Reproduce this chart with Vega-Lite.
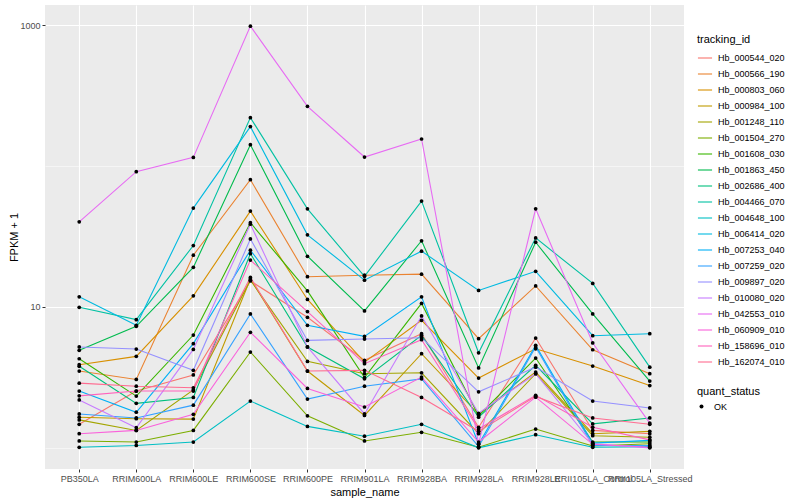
{
"$schema": "https://vega.github.io/schema/vega-lite/v6.json",
"width": 639, "height": 464,
"autosize": {"type": "none"},
"padding": {"left": 45, "top": 5, "right": 116, "bottom": 31},
"background": "white",
"config": {
  "font": "Liberation Sans",
  "view": {"fill": "#EBEBEB", "stroke": null},
  "axis": {"domain": false, "gridColor": "white", "tickColor": "#333333", "tickSize": 3, "labelColor": "#4D4D4D", "labelFontSize": 9, "titleFontSize": 11, "titleFontWeight": "normal", "titleColor": "black", "labelPadding": 2},
  "legend": {"titleFontSize": 11, "titleFontWeight": "normal", "titleColor": "black", "labelFontSize": 9, "labelColor": "black"}
},
"data": {"values": [
{"tracking_id":"Hb_000544_020","sample_name":"PB350LA","FPKM":1.47,"quant_status":"OK"},
{"tracking_id":"Hb_000544_020","sample_name":"RRIM600LA","FPKM":2.53,"quant_status":"OK"},
{"tracking_id":"Hb_000544_020","sample_name":"RRIM600LE","FPKM":3.29,"quant_status":"OK"},
{"tracking_id":"Hb_000544_020","sample_name":"RRIM600SE","FPKM":15.3,"quant_status":"OK"},
{"tracking_id":"Hb_000544_020","sample_name":"RRIM600PE","FPKM":8.45,"quant_status":"OK"},
{"tracking_id":"Hb_000544_020","sample_name":"RRIM901LA","FPKM":4.18,"quant_status":"OK"},
{"tracking_id":"Hb_000544_020","sample_name":"RRIM928BA","FPKM":6.46,"quant_status":"OK"},
{"tracking_id":"Hb_000544_020","sample_name":"RRIM928LA","FPKM":1.40,"quant_status":"OK"},
{"tracking_id":"Hb_000544_020","sample_name":"RRIM928LE","FPKM":6.02,"quant_status":"OK"},
{"tracking_id":"Hb_000544_020","sample_name":"RRII105LA_Control","FPKM":1.33,"quant_status":"OK"},
{"tracking_id":"Hb_000544_020","sample_name":"RRII105LA_Stressed","FPKM":1.26,"quant_status":"OK"},
{"tracking_id":"Hb_000566_190","sample_name":"PB350LA","FPKM":3.51,"quant_status":"OK"},
{"tracking_id":"Hb_000566_190","sample_name":"RRIM600LA","FPKM":3.06,"quant_status":"OK"},
{"tracking_id":"Hb_000566_190","sample_name":"RRIM600LE","FPKM":23.3,"quant_status":"OK"},
{"tracking_id":"Hb_000566_190","sample_name":"RRIM600SE","FPKM":80.0,"quant_status":"OK"},
{"tracking_id":"Hb_000566_190","sample_name":"RRIM600PE","FPKM":16.4,"quant_status":"OK"},
{"tracking_id":"Hb_000566_190","sample_name":"RRIM901LA","FPKM":16.8,"quant_status":"OK"},
{"tracking_id":"Hb_000566_190","sample_name":"RRIM928BA","FPKM":17.1,"quant_status":"OK"},
{"tracking_id":"Hb_000566_190","sample_name":"RRIM928LA","FPKM":5.95,"quant_status":"OK"},
{"tracking_id":"Hb_000566_190","sample_name":"RRIM928LE","FPKM":14.1,"quant_status":"OK"},
{"tracking_id":"Hb_000566_190","sample_name":"RRII105LA_Control","FPKM":4.97,"quant_status":"OK"},
{"tracking_id":"Hb_000566_190","sample_name":"RRII105LA_Stressed","FPKM":3.36,"quant_status":"OK"},
{"tracking_id":"Hb_000803_060","sample_name":"PB350LA","FPKM":3.89,"quant_status":"OK"},
{"tracking_id":"Hb_000803_060","sample_name":"RRIM600LA","FPKM":4.46,"quant_status":"OK"},
{"tracking_id":"Hb_000803_060","sample_name":"RRIM600LE","FPKM":12.0,"quant_status":"OK"},
{"tracking_id":"Hb_000803_060","sample_name":"RRIM600SE","FPKM":47.9,"quant_status":"OK"},
{"tracking_id":"Hb_000803_060","sample_name":"RRIM600PE","FPKM":11.3,"quant_status":"OK"},
{"tracking_id":"Hb_000803_060","sample_name":"RRIM901LA","FPKM":4.06,"quant_status":"OK"},
{"tracking_id":"Hb_000803_060","sample_name":"RRIM928BA","FPKM":8.04,"quant_status":"OK"},
{"tracking_id":"Hb_000803_060","sample_name":"RRIM928LA","FPKM":3.13,"quant_status":"OK"},
{"tracking_id":"Hb_000803_060","sample_name":"RRIM928LE","FPKM":5.05,"quant_status":"OK"},
{"tracking_id":"Hb_000803_060","sample_name":"RRII105LA_Control","FPKM":3.81,"quant_status":"OK"},
{"tracking_id":"Hb_000803_060","sample_name":"RRII105LA_Stressed","FPKM":2.77,"quant_status":"OK"},
{"tracking_id":"Hb_000984_100","sample_name":"PB350LA","FPKM":1.65,"quant_status":"OK"},
{"tracking_id":"Hb_000984_100","sample_name":"RRIM600LA","FPKM":1.61,"quant_status":"OK"},
{"tracking_id":"Hb_000984_100","sample_name":"RRIM600LE","FPKM":1.60,"quant_status":"OK"},
{"tracking_id":"Hb_000984_100","sample_name":"RRIM600SE","FPKM":15.8,"quant_status":"OK"},
{"tracking_id":"Hb_000984_100","sample_name":"RRIM600PE","FPKM":3.51,"quant_status":"OK"},
{"tracking_id":"Hb_000984_100","sample_name":"RRIM901LA","FPKM":1.70,"quant_status":"OK"},
{"tracking_id":"Hb_000984_100","sample_name":"RRIM928BA","FPKM":4.66,"quant_status":"OK"},
{"tracking_id":"Hb_000984_100","sample_name":"RRIM928LA","FPKM":1.73,"quant_status":"OK"},
{"tracking_id":"Hb_000984_100","sample_name":"RRIM928LE","FPKM":3.45,"quant_status":"OK"},
{"tracking_id":"Hb_000984_100","sample_name":"RRII105LA_Control","FPKM":1.26,"quant_status":"OK"},
{"tracking_id":"Hb_000984_100","sample_name":"RRII105LA_Stressed","FPKM":1.31,"quant_status":"OK"},
{"tracking_id":"Hb_001248_110","sample_name":"PB350LA","FPKM":1.58,"quant_status":"OK"},
{"tracking_id":"Hb_001248_110","sample_name":"RRIM600LA","FPKM":1.33,"quant_status":"OK"},
{"tracking_id":"Hb_001248_110","sample_name":"RRIM600LE","FPKM":2.58,"quant_status":"OK"},
{"tracking_id":"Hb_001248_110","sample_name":"RRIM600SE","FPKM":15.5,"quant_status":"OK"},
{"tracking_id":"Hb_001248_110","sample_name":"RRIM600PE","FPKM":4.11,"quant_status":"OK"},
{"tracking_id":"Hb_001248_110","sample_name":"RRIM901LA","FPKM":3.36,"quant_status":"OK"},
{"tracking_id":"Hb_001248_110","sample_name":"RRIM928BA","FPKM":3.41,"quant_status":"OK"},
{"tracking_id":"Hb_001248_110","sample_name":"RRIM928LA","FPKM":1.26,"quant_status":"OK"},
{"tracking_id":"Hb_001248_110","sample_name":"RRIM928LE","FPKM":3.36,"quant_status":"OK"},
{"tracking_id":"Hb_001248_110","sample_name":"RRII105LA_Control","FPKM":1.22,"quant_status":"OK"},
{"tracking_id":"Hb_001248_110","sample_name":"RRII105LA_Stressed","FPKM":1.19,"quant_status":"OK"},
{"tracking_id":"Hb_001504_270","sample_name":"PB350LA","FPKM":1.12,"quant_status":"OK"},
{"tracking_id":"Hb_001504_270","sample_name":"RRIM600LA","FPKM":1.10,"quant_status":"OK"},
{"tracking_id":"Hb_001504_270","sample_name":"RRIM600LE","FPKM":1.33,"quant_status":"OK"},
{"tracking_id":"Hb_001504_270","sample_name":"RRIM600SE","FPKM":4.79,"quant_status":"OK"},
{"tracking_id":"Hb_001504_270","sample_name":"RRIM600PE","FPKM":1.69,"quant_status":"OK"},
{"tracking_id":"Hb_001504_270","sample_name":"RRIM901LA","FPKM":1.12,"quant_status":"OK"},
{"tracking_id":"Hb_001504_270","sample_name":"RRIM928BA","FPKM":1.29,"quant_status":"OK"},
{"tracking_id":"Hb_001504_270","sample_name":"RRIM928LA","FPKM":1.01,"quant_status":"OK"},
{"tracking_id":"Hb_001504_270","sample_name":"RRIM928LE","FPKM":1.36,"quant_status":"OK"},
{"tracking_id":"Hb_001504_270","sample_name":"RRII105LA_Control","FPKM":1.03,"quant_status":"OK"},
{"tracking_id":"Hb_001504_270","sample_name":"RRII105LA_Stressed","FPKM":1.07,"quant_status":"OK"},
{"tracking_id":"Hb_001608_030","sample_name":"PB350LA","FPKM":4.29,"quant_status":"OK"},
{"tracking_id":"Hb_001608_030","sample_name":"RRIM600LA","FPKM":2.33,"quant_status":"OK"},
{"tracking_id":"Hb_001608_030","sample_name":"RRIM600LE","FPKM":6.32,"quant_status":"OK"},
{"tracking_id":"Hb_001608_030","sample_name":"RRIM600SE","FPKM":39.6,"quant_status":"OK"},
{"tracking_id":"Hb_001608_030","sample_name":"RRIM600PE","FPKM":13.0,"quant_status":"OK"},
{"tracking_id":"Hb_001608_030","sample_name":"RRIM901LA","FPKM":3.15,"quant_status":"OK"},
{"tracking_id":"Hb_001608_030","sample_name":"RRIM928BA","FPKM":10.6,"quant_status":"OK"},
{"tracking_id":"Hb_001608_030","sample_name":"RRIM928LA","FPKM":1.69,"quant_status":"OK"},
{"tracking_id":"Hb_001608_030","sample_name":"RRIM928LE","FPKM":4.34,"quant_status":"OK"},
{"tracking_id":"Hb_001608_030","sample_name":"RRII105LA_Control","FPKM":1.10,"quant_status":"OK"},
{"tracking_id":"Hb_001608_030","sample_name":"RRII105LA_Stressed","FPKM":1.10,"quant_status":"OK"},
{"tracking_id":"Hb_001863_450","sample_name":"PB350LA","FPKM":4.92,"quant_status":"OK"},
{"tracking_id":"Hb_001863_450","sample_name":"RRIM600LA","FPKM":7.29,"quant_status":"OK"},
{"tracking_id":"Hb_001863_450","sample_name":"RRIM600LE","FPKM":19.1,"quant_status":"OK"},
{"tracking_id":"Hb_001863_450","sample_name":"RRIM600SE","FPKM":141.8,"quant_status":"OK"},
{"tracking_id":"Hb_001863_450","sample_name":"RRIM600PE","FPKM":22.9,"quant_status":"OK"},
{"tracking_id":"Hb_001863_450","sample_name":"RRIM901LA","FPKM":9.37,"quant_status":"OK"},
{"tracking_id":"Hb_001863_450","sample_name":"RRIM928BA","FPKM":29.5,"quant_status":"OK"},
{"tracking_id":"Hb_001863_450","sample_name":"RRIM928LA","FPKM":3.69,"quant_status":"OK"},
{"tracking_id":"Hb_001863_450","sample_name":"RRIM928LE","FPKM":28.8,"quant_status":"OK"},
{"tracking_id":"Hb_001863_450","sample_name":"RRII105LA_Control","FPKM":8.92,"quant_status":"OK"},
{"tracking_id":"Hb_001863_450","sample_name":"RRII105LA_Stressed","FPKM":2.98,"quant_status":"OK"},
{"tracking_id":"Hb_002686_400","sample_name":"PB350LA","FPKM":3.79,"quant_status":"OK"},
{"tracking_id":"Hb_002686_400","sample_name":"RRIM600LA","FPKM":2.07,"quant_status":"OK"},
{"tracking_id":"Hb_002686_400","sample_name":"RRIM600LE","FPKM":2.28,"quant_status":"OK"},
{"tracking_id":"Hb_002686_400","sample_name":"RRIM600SE","FPKM":23.9,"quant_status":"OK"},
{"tracking_id":"Hb_002686_400","sample_name":"RRIM600PE","FPKM":5.20,"quant_status":"OK"},
{"tracking_id":"Hb_002686_400","sample_name":"RRIM901LA","FPKM":3.09,"quant_status":"OK"},
{"tracking_id":"Hb_002686_400","sample_name":"RRIM928BA","FPKM":6.29,"quant_status":"OK"},
{"tracking_id":"Hb_002686_400","sample_name":"RRIM928LA","FPKM":1.65,"quant_status":"OK"},
{"tracking_id":"Hb_002686_400","sample_name":"RRIM928LE","FPKM":3.85,"quant_status":"OK"},
{"tracking_id":"Hb_002686_400","sample_name":"RRII105LA_Control","FPKM":1.48,"quant_status":"OK"},
{"tracking_id":"Hb_002686_400","sample_name":"RRII105LA_Stressed","FPKM":1.63,"quant_status":"OK"},
{"tracking_id":"Hb_004466_070","sample_name":"PB350LA","FPKM":9.95,"quant_status":"OK"},
{"tracking_id":"Hb_004466_070","sample_name":"RRIM600LA","FPKM":8.13,"quant_status":"OK"},
{"tracking_id":"Hb_004466_070","sample_name":"RRIM600LE","FPKM":27.3,"quant_status":"OK"},
{"tracking_id":"Hb_004466_070","sample_name":"RRIM600SE","FPKM":220.6,"quant_status":"OK"},
{"tracking_id":"Hb_004466_070","sample_name":"RRIM600PE","FPKM":49.7,"quant_status":"OK"},
{"tracking_id":"Hb_004466_070","sample_name":"RRIM901LA","FPKM":16.5,"quant_status":"OK"},
{"tracking_id":"Hb_004466_070","sample_name":"RRIM928BA","FPKM":56.4,"quant_status":"OK"},
{"tracking_id":"Hb_004466_070","sample_name":"RRIM928LA","FPKM":4.73,"quant_status":"OK"},
{"tracking_id":"Hb_004466_070","sample_name":"RRIM928LE","FPKM":30.9,"quant_status":"OK"},
{"tracking_id":"Hb_004466_070","sample_name":"RRII105LA_Control","FPKM":14.7,"quant_status":"OK"},
{"tracking_id":"Hb_004466_070","sample_name":"RRII105LA_Stressed","FPKM":3.74,"quant_status":"OK"},
{"tracking_id":"Hb_004648_100","sample_name":"PB350LA","FPKM":1.01,"quant_status":"OK"},
{"tracking_id":"Hb_004648_100","sample_name":"RRIM600LA","FPKM":1.04,"quant_status":"OK"},
{"tracking_id":"Hb_004648_100","sample_name":"RRIM600LE","FPKM":1.10,"quant_status":"OK"},
{"tracking_id":"Hb_004648_100","sample_name":"RRIM600SE","FPKM":2.15,"quant_status":"OK"},
{"tracking_id":"Hb_004648_100","sample_name":"RRIM600PE","FPKM":1.42,"quant_status":"OK"},
{"tracking_id":"Hb_004648_100","sample_name":"RRIM901LA","FPKM":1.21,"quant_status":"OK"},
{"tracking_id":"Hb_004648_100","sample_name":"RRIM928BA","FPKM":1.47,"quant_status":"OK"},
{"tracking_id":"Hb_004648_100","sample_name":"RRIM928LA","FPKM":1.00,"quant_status":"OK"},
{"tracking_id":"Hb_004648_100","sample_name":"RRIM928LE","FPKM":1.24,"quant_status":"OK"},
{"tracking_id":"Hb_004648_100","sample_name":"RRII105LA_Control","FPKM":1.01,"quant_status":"OK"},
{"tracking_id":"Hb_004648_100","sample_name":"RRII105LA_Stressed","FPKM":1.02,"quant_status":"OK"},
{"tracking_id":"Hb_006414_020","sample_name":"PB350LA","FPKM":11.8,"quant_status":"OK"},
{"tracking_id":"Hb_006414_020","sample_name":"RRIM600LA","FPKM":7.41,"quant_status":"OK"},
{"tracking_id":"Hb_006414_020","sample_name":"RRIM600LE","FPKM":50.3,"quant_status":"OK"},
{"tracking_id":"Hb_006414_020","sample_name":"RRIM600SE","FPKM":190.5,"quant_status":"OK"},
{"tracking_id":"Hb_006414_020","sample_name":"RRIM600PE","FPKM":32.5,"quant_status":"OK"},
{"tracking_id":"Hb_006414_020","sample_name":"RRIM901LA","FPKM":15.5,"quant_status":"OK"},
{"tracking_id":"Hb_006414_020","sample_name":"RRIM928BA","FPKM":24.9,"quant_status":"OK"},
{"tracking_id":"Hb_006414_020","sample_name":"RRIM928LA","FPKM":13.1,"quant_status":"OK"},
{"tracking_id":"Hb_006414_020","sample_name":"RRIM928LE","FPKM":17.9,"quant_status":"OK"},
{"tracking_id":"Hb_006414_020","sample_name":"RRII105LA_Control","FPKM":6.25,"quant_status":"OK"},
{"tracking_id":"Hb_006414_020","sample_name":"RRII105LA_Stressed","FPKM":6.46,"quant_status":"OK"},
{"tracking_id":"Hb_007253_040","sample_name":"PB350LA","FPKM":2.53,"quant_status":"OK"},
{"tracking_id":"Hb_007253_040","sample_name":"RRIM600LA","FPKM":1.79,"quant_status":"OK"},
{"tracking_id":"Hb_007253_040","sample_name":"RRIM600LE","FPKM":5.49,"quant_status":"OK"},
{"tracking_id":"Hb_007253_040","sample_name":"RRIM600SE","FPKM":25.3,"quant_status":"OK"},
{"tracking_id":"Hb_007253_040","sample_name":"RRIM600PE","FPKM":7.41,"quant_status":"OK"},
{"tracking_id":"Hb_007253_040","sample_name":"RRIM901LA","FPKM":6.18,"quant_status":"OK"},
{"tracking_id":"Hb_007253_040","sample_name":"RRIM928BA","FPKM":11.8,"quant_status":"OK"},
{"tracking_id":"Hb_007253_040","sample_name":"RRIM928LA","FPKM":1.06,"quant_status":"OK"},
{"tracking_id":"Hb_007253_040","sample_name":"RRIM928LE","FPKM":5.34,"quant_status":"OK"},
{"tracking_id":"Hb_007253_040","sample_name":"RRII105LA_Control","FPKM":1.08,"quant_status":"OK"},
{"tracking_id":"Hb_007253_040","sample_name":"RRII105LA_Stressed","FPKM":1.13,"quant_status":"OK"},
{"tracking_id":"Hb_007259_020","sample_name":"PB350LA","FPKM":1.74,"quant_status":"OK"},
{"tracking_id":"Hb_007259_020","sample_name":"RRIM600LA","FPKM":1.63,"quant_status":"OK"},
{"tracking_id":"Hb_007259_020","sample_name":"RRIM600LE","FPKM":2.01,"quant_status":"OK"},
{"tracking_id":"Hb_007259_020","sample_name":"RRIM600SE","FPKM":8.92,"quant_status":"OK"},
{"tracking_id":"Hb_007259_020","sample_name":"RRIM600PE","FPKM":2.22,"quant_status":"OK"},
{"tracking_id":"Hb_007259_020","sample_name":"RRIM901LA","FPKM":2.74,"quant_status":"OK"},
{"tracking_id":"Hb_007259_020","sample_name":"RRIM928BA","FPKM":3.09,"quant_status":"OK"},
{"tracking_id":"Hb_007259_020","sample_name":"RRIM928LA","FPKM":1.02,"quant_status":"OK"},
{"tracking_id":"Hb_007259_020","sample_name":"RRIM928LE","FPKM":5.20,"quant_status":"OK"},
{"tracking_id":"Hb_007259_020","sample_name":"RRII105LA_Control","FPKM":1.04,"quant_status":"OK"},
{"tracking_id":"Hb_007259_020","sample_name":"RRII105LA_Stressed","FPKM":1.04,"quant_status":"OK"},
{"tracking_id":"Hb_009897_020","sample_name":"PB350LA","FPKM":5.20,"quant_status":"OK"},
{"tracking_id":"Hb_009897_020","sample_name":"RRIM600LA","FPKM":5.03,"quant_status":"OK"},
{"tracking_id":"Hb_009897_020","sample_name":"RRIM600LE","FPKM":3.55,"quant_status":"OK"},
{"tracking_id":"Hb_009897_020","sample_name":"RRIM600SE","FPKM":30.4,"quant_status":"OK"},
{"tracking_id":"Hb_009897_020","sample_name":"RRIM600PE","FPKM":5.79,"quant_status":"OK"},
{"tracking_id":"Hb_009897_020","sample_name":"RRIM901LA","FPKM":5.92,"quant_status":"OK"},
{"tracking_id":"Hb_009897_020","sample_name":"RRIM928BA","FPKM":6.05,"quant_status":"OK"},
{"tracking_id":"Hb_009897_020","sample_name":"RRIM928LA","FPKM":2.50,"quant_status":"OK"},
{"tracking_id":"Hb_009897_020","sample_name":"RRIM928LE","FPKM":3.74,"quant_status":"OK"},
{"tracking_id":"Hb_009897_020","sample_name":"RRII105LA_Control","FPKM":2.15,"quant_status":"OK"},
{"tracking_id":"Hb_009897_020","sample_name":"RRII105LA_Stressed","FPKM":1.92,"quant_status":"OK"},
{"tracking_id":"Hb_010080_020","sample_name":"PB350LA","FPKM":2.19,"quant_status":"OK"},
{"tracking_id":"Hb_010080_020","sample_name":"RRIM600LA","FPKM":1.39,"quant_status":"OK"},
{"tracking_id":"Hb_010080_020","sample_name":"RRIM600LE","FPKM":5.00,"quant_status":"OK"},
{"tracking_id":"Hb_010080_020","sample_name":"RRIM600SE","FPKM":38.7,"quant_status":"OK"},
{"tracking_id":"Hb_010080_020","sample_name":"RRIM600PE","FPKM":5.20,"quant_status":"OK"},
{"tracking_id":"Hb_010080_020","sample_name":"RRIM901LA","FPKM":1.74,"quant_status":"OK"},
{"tracking_id":"Hb_010080_020","sample_name":"RRIM928BA","FPKM":8.63,"quant_status":"OK"},
{"tracking_id":"Hb_010080_020","sample_name":"RRIM928LA","FPKM":1.76,"quant_status":"OK"},
{"tracking_id":"Hb_010080_020","sample_name":"RRIM928LE","FPKM":3.36,"quant_status":"OK"},
{"tracking_id":"Hb_010080_020","sample_name":"RRII105LA_Control","FPKM":1.07,"quant_status":"OK"},
{"tracking_id":"Hb_010080_020","sample_name":"RRII105LA_Stressed","FPKM":1.00,"quant_status":"OK"},
{"tracking_id":"Hb_042553_010","sample_name":"PB350LA","FPKM":40.2,"quant_status":"OK"},
{"tracking_id":"Hb_042553_010","sample_name":"RRIM600LA","FPKM":91.2,"quant_status":"OK"},
{"tracking_id":"Hb_042553_010","sample_name":"RRIM600LE","FPKM":115.2,"quant_status":"OK"},
{"tracking_id":"Hb_042553_010","sample_name":"RRIM600SE","FPKM":984,"quant_status":"OK"},
{"tracking_id":"Hb_042553_010","sample_name":"RRIM600PE","FPKM":265.5,"quant_status":"OK"},
{"tracking_id":"Hb_042553_010","sample_name":"RRIM901LA","FPKM":115.9,"quant_status":"OK"},
{"tracking_id":"Hb_042553_010","sample_name":"RRIM928BA","FPKM":155.6,"quant_status":"OK"},
{"tracking_id":"Hb_042553_010","sample_name":"RRIM928LA","FPKM":1.07,"quant_status":"OK"},
{"tracking_id":"Hb_042553_010","sample_name":"RRIM928LE","FPKM":49.7,"quant_status":"OK"},
{"tracking_id":"Hb_042553_010","sample_name":"RRII105LA_Control","FPKM":5.55,"quant_status":"OK"},
{"tracking_id":"Hb_042553_010","sample_name":"RRII105LA_Stressed","FPKM":1.50,"quant_status":"OK"},
{"tracking_id":"Hb_060909_010","sample_name":"PB350LA","FPKM":1.26,"quant_status":"OK"},
{"tracking_id":"Hb_060909_010","sample_name":"RRIM600LA","FPKM":1.33,"quant_status":"OK"},
{"tracking_id":"Hb_060909_010","sample_name":"RRIM600LE","FPKM":1.73,"quant_status":"OK"},
{"tracking_id":"Hb_060909_010","sample_name":"RRIM600SE","FPKM":6.61,"quant_status":"OK"},
{"tracking_id":"Hb_060909_010","sample_name":"RRIM600PE","FPKM":2.64,"quant_status":"OK"},
{"tracking_id":"Hb_060909_010","sample_name":"RRIM901LA","FPKM":1.95,"quant_status":"OK"},
{"tracking_id":"Hb_060909_010","sample_name":"RRIM928BA","FPKM":3.18,"quant_status":"OK"},
{"tracking_id":"Hb_060909_010","sample_name":"RRIM928LA","FPKM":1.10,"quant_status":"OK"},
{"tracking_id":"Hb_060909_010","sample_name":"RRIM928LE","FPKM":2.29,"quant_status":"OK"},
{"tracking_id":"Hb_060909_010","sample_name":"RRII105LA_Control","FPKM":1.06,"quant_status":"OK"},
{"tracking_id":"Hb_060909_010","sample_name":"RRII105LA_Stressed","FPKM":1.01,"quant_status":"OK"},
{"tracking_id":"Hb_158696_010","sample_name":"PB350LA","FPKM":2.34,"quant_status":"OK"},
{"tracking_id":"Hb_158696_010","sample_name":"RRIM600LA","FPKM":2.53,"quant_status":"OK"},
{"tracking_id":"Hb_158696_010","sample_name":"RRIM600LE","FPKM":2.53,"quant_status":"OK"},
{"tracking_id":"Hb_158696_010","sample_name":"RRIM600SE","FPKM":21.5,"quant_status":"OK"},
{"tracking_id":"Hb_158696_010","sample_name":"RRIM600PE","FPKM":9.27,"quant_status":"OK"},
{"tracking_id":"Hb_158696_010","sample_name":"RRIM901LA","FPKM":3.96,"quant_status":"OK"},
{"tracking_id":"Hb_158696_010","sample_name":"RRIM928BA","FPKM":5.86,"quant_status":"OK"},
{"tracking_id":"Hb_158696_010","sample_name":"RRIM928LA","FPKM":1.36,"quant_status":"OK"},
{"tracking_id":"Hb_158696_010","sample_name":"RRIM928LE","FPKM":2.36,"quant_status":"OK"},
{"tracking_id":"Hb_158696_010","sample_name":"RRII105LA_Control","FPKM":1.40,"quant_status":"OK"},
{"tracking_id":"Hb_158696_010","sample_name":"RRII105LA_Stressed","FPKM":1.14,"quant_status":"OK"},
{"tracking_id":"Hb_162074_010","sample_name":"PB350LA","FPKM":2.88,"quant_status":"OK"},
{"tracking_id":"Hb_162074_010","sample_name":"RRIM600LA","FPKM":2.74,"quant_status":"OK"},
{"tracking_id":"Hb_162074_010","sample_name":"RRIM600LE","FPKM":2.67,"quant_status":"OK"},
{"tracking_id":"Hb_162074_010","sample_name":"RRIM600SE","FPKM":16.2,"quant_status":"OK"},
{"tracking_id":"Hb_162074_010","sample_name":"RRIM600PE","FPKM":3.51,"quant_status":"OK"},
{"tracking_id":"Hb_162074_010","sample_name":"RRIM901LA","FPKM":3.55,"quant_status":"OK"},
{"tracking_id":"Hb_162074_010","sample_name":"RRIM928BA","FPKM":2.28,"quant_status":"OK"},
{"tracking_id":"Hb_162074_010","sample_name":"RRIM928LA","FPKM":1.31,"quant_status":"OK"},
{"tracking_id":"Hb_162074_010","sample_name":"RRIM928LE","FPKM":2.32,"quant_status":"OK"},
{"tracking_id":"Hb_162074_010","sample_name":"RRII105LA_Control","FPKM":1.63,"quant_status":"OK"},
{"tracking_id":"Hb_162074_010","sample_name":"RRII105LA_Stressed","FPKM":1.47,"quant_status":"OK"}
]},
"encoding": {
  "x": {"field": "sample_name", "type": "nominal",
        "sort": ["PB350LA","RRIM600LA","RRIM600LE","RRIM600SE","RRIM600PE","RRIM901LA","RRIM928BA","RRIM928LA","RRIM928LE","RRII105LA_Control","RRII105LA_Stressed"],
        "scale": {"type": "point", "padding": 0.6},
        "axis": {"title": "sample_name", "labelAngle": 0, "labelOverlap": false, "labelBound": false, "grid": true, "gridWidth": 1.1, "titlePadding": 3}},
  "y": {"field": "FPKM", "type": "quantitative",
        "scale": {"type": "log", "domain": [0.708, 1390], "nice": false},
        "axis": {"title": "FPKM + 1", "values": [1, 10, 100, 1000], "format": "d",
                 "labelExpr": "datum.value == 10 || datum.value == 1000 ? datum.label : ''",
                 "gridWidth": {"condition": {"test": "datum.value == 10 || datum.value == 1000", "value": 1.1}, "value": 0.5},
                 "tickOpacity": {"condition": {"test": "datum.value == 10 || datum.value == 1000", "value": 1}, "value": 0},
                 "titlePadding": 0}}
},
"layer": [
  {"mark": {"type": "line", "strokeWidth": 1.1},
   "encoding": {
     "order": {"value": null},
     "color": {"field": "tracking_id", "type": "nominal",
       "scale": {"range": ["#F8766D","#EA8331","#D89000","#C09B00","#A3A500","#7CAE00","#39B600","#00BB4E","#00BF7D","#00C1A3","#00BFC4","#00BAE0","#00B0F6","#35A2FF","#9590FF","#C77CFF","#E76BF3","#FA62DB","#FF62BC","#FF6C91"]},
       "legend": {"title": "tracking_id", "orient": "none", "legendX": 652, "legendY": 29, "symbolType": "stroke", "symbolSize": 200, "symbolStrokeWidth": 1.1, "rowPadding": 3, "labelOffset": 5}}
   }},
  {"mark": {"type": "point", "filled": true, "size": 14, "opacity": 1, "color": "black"},
   "encoding": {
     "shape": {"field": "quant_status", "type": "nominal", "scale": {"range": ["circle"]},
       "legend": {"title": "quant_status", "orient": "none", "legendX": 652, "legendY": 381, "symbolFillColor": "black", "symbolStrokeColor": "black", "symbolSize": 16, "labelOffset": 8}}
   }}
]
}
